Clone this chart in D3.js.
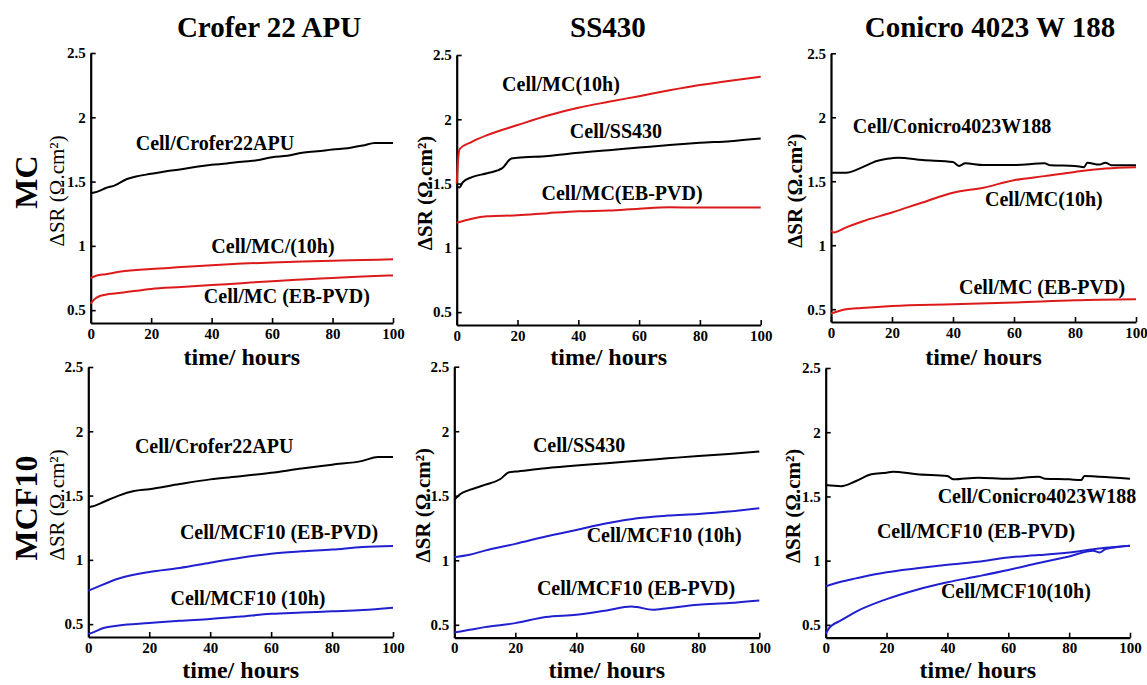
<!DOCTYPE html>
<html>
<head>
<meta charset="utf-8">
<script src="https://cdn.jsdelivr.net/npm/d3@7"></script>
<style>
  html, body { margin: 0; padding: 0; background: #fff; }
  svg { display: block; }
  svg text { font-family: "Liberation Serif", "Times New Roman", serif !important; }
</style>
</head>
<body>
<svg id="chart" width="1147" height="685"></svg>
<script>
// ---------------- DATA ----------------
const columnTitles = ["Crofer 22 APU", "SS430", "Conicro 4023 W 188"];
const rowTitles = ["MC", "MCF10"];
const yTicks = [0.5, 1, 1.5, 2, 2.5];
const xTicks = [0, 20, 40, 60, 80, 100];
const yLabel = "\u0394SR (\u03A9.cm\u00B2)";
const xLabel = "time/ hours";

// Row 1 (MC) — Crofer 22 APU
const croferBlack = [[0,1.41],[2,1.42],[5,1.45],[8,1.47],[12,1.52],[15,1.54],[20,1.56],[25,1.58],[30,1.595],[35,1.615],[40,1.63],[45,1.64],[50,1.655],[55,1.665],[60,1.69],[65,1.70],[70,1.725],[75,1.735],[80,1.75],[85,1.76],[90,1.78],[94,1.80],[100,1.80]];
const croferMC10h = [[0,0.75],[2,0.77],[5,0.78],[10,0.80],[20,0.82],[30,0.835],[40,0.85],[50,0.862],[60,0.87],[70,0.878],[80,0.885],[90,0.89],[100,0.895]];
const croferMCEB = [[0,0.55],[1,0.58],[3,0.61],[6,0.625],[10,0.635],[20,0.665],[30,0.68],[40,0.695],[50,0.71],[60,0.725],[70,0.738],[80,0.75],[90,0.762],[100,0.77]];

// Row 1 (MC) — SS430
const ssBlack = [[0,1.475],[1,1.47],[2,1.51],[5,1.55],[10,1.58],[15,1.62],[18,1.695],[20,1.70],[30,1.715],[40,1.74],[50,1.76],[60,1.78],[70,1.80],[80,1.817],[90,1.83],[100,1.85]];
const ssMC10h = [[0,1.50],[0.5,1.70],[1,1.77],[5,1.825],[10,1.877],[20,1.955],[30,2.03],[40,2.09],[50,2.136],[60,2.18],[70,2.225],[80,2.266],[90,2.30],[100,2.33]];
const ssMCEB = [[0,1.195],[5,1.227],[10,1.245],[20,1.253],[30,1.27],[40,1.285],[50,1.29],[60,1.305],[70,1.316],[80,1.313],[90,1.313],[100,1.313]];

// Row 1 (MC) — Conicro 4023 W 188
const conBlack = [[0,1.567],[5,1.567],[10,1.606],[15,1.658],[20,1.68],[22,1.684],[30,1.666],[40,1.65],[42,1.62],[44,1.64],[50,1.627],[60,1.627],[70,1.64],[72,1.625],[80,1.62],[83,1.61],[84,1.645],[88,1.63],[90,1.645],[92,1.625],[100,1.625]];
const conMC10h = [[0,1.114],[1,1.10],[5,1.14],[10,1.184],[20,1.256],[30,1.334],[40,1.41],[50,1.45],[60,1.508],[70,1.54],[80,1.573],[90,1.60],[100,1.61]];
const conMCEB = [[0,0.466],[5,0.50],[10,0.51],[20,0.526],[40,0.539],[60,0.552],[80,0.57],[100,0.578]];

// Row 2 (MCF10) — Crofer 22 APU
const croferBlack2 = [[0,1.41],[2,1.42],[5,1.45],[10,1.50],[15,1.535],[20,1.55],[30,1.59],[40,1.626],[50,1.65],[60,1.677],[70,1.71],[80,1.74],[90,1.77],[95,1.80],[100,1.80]];
const croferMCF10EB = [[0,0.76],[3,0.79],[10,0.855],[20,0.906],[30,0.937],[40,0.978],[50,1.017],[60,1.048],[70,1.066],[80,1.08],[90,1.10],[100,1.107]];
const croferMCF1010h = [[0,0.423],[2,0.44],[5,0.47],[10,0.49],[20,0.508],[30,0.526],[40,0.54],[50,0.559],[60,0.58],[70,0.59],[80,0.60],[90,0.61],[100,0.628]];

// Row 2 (MCF10) — SS430
const ssBlack2 = [[0,1.468],[2,1.514],[5,1.545],[10,1.584],[15,1.628],[18,1.682],[20,1.687],[30,1.713],[40,1.734],[50,1.752],[60,1.772],[70,1.79],[80,1.808],[90,1.824],[100,1.842]];
const ssMCF1010h = [[0,1.024],[5,1.042],[10,1.075],[20,1.127],[30,1.184],[40,1.235],[50,1.287],[60,1.326],[70,1.346],[80,1.359],[90,1.377],[100,1.403]];
const ssMCF10EB = [[0,0.44],[5,0.461],[10,0.482],[20,0.513],[30,0.56],[40,0.577],[50,0.611],[58,0.642],[60,0.637],[65,0.616],[70,0.629],[80,0.655],[90,0.668],[100,0.688]];

// Row 2 (MCF10) — Conicro 4023 W 188
const conBlack2 = [[0,1.589],[5,1.58],[10,1.62],[15,1.672],[20,1.685],[22,1.693],[30,1.672],[40,1.659],[42,1.633],[50,1.646],[60,1.638],[70,1.654],[72,1.638],[80,1.633],[84,1.628],[85,1.659],[90,1.654],[100,1.638]];
const conMCF10EB = [[0,0.80],[5,0.836],[10,0.862],[20,0.909],[30,0.94],[40,0.968],[50,0.992],[60,1.025],[70,1.043],[80,1.064],[90,1.095],[100,1.116]];
const conMCF1010h = [[0,0.43],[1,0.47],[2,0.495],[5,0.534],[10,0.603],[20,0.70],[30,0.774],[40,0.831],[50,0.878],[60,0.927],[70,0.981],[80,1.033],[88,1.077],[90,1.064],[92,1.09],[100,1.116]];

// Curve labels: [text, t, value] (anchored at their centre/baseline)
const labels1 = [["Cell/Crofer22APU",41.1,1.745],["Cell/MC/(10h)",60.3,0.944],["Cell/MC (EB-PVD)",64.9,0.555]];
const labels2 = [["Cell/MC(10h)",34.3,2.22],["Cell/SS430",52.4,1.853],["Cell/MC(EB-PVD)",54.4,1.37]];
const labels3 = [["Cell/Conicro4023W188",39.7,1.88],["Cell/MC(10h)",69.8,1.306],["Cell/MC (EB-PVD)",69.2,0.622]];
const labels4 = [["Cell/Crofer22APU",41.3,1.831],["Cell/MCF10 (EB-PVD)",62.6,1.162],["Cell/MCF10 (10h)",52.4,0.649]];
const labels5 = [["Cell/SS430",40.9,1.839],["Cell/MCF10 (10h)",68.8,1.142],["Cell/MCF10 (EB-PVD)",59.6,0.731]];
const labels6 = [["Cell/Conicro4023W188",69.4,1.449],["Cell/MCF10 (EB-PVD)",49.4,1.176],["Cell/MCF10(10h)",62.5,0.709]];

// ---------------- STYLE / LAYOUT ----------------
const SERIF = '"Liberation Serif", "Times New Roman", serif';
const BLACK = "#000000", RED = "#dc1a1a", BLUE = "#2020d0";
const panels = [
  {box:[90.7,393,53,323],   series:[[croferBlack,BLACK],[croferMC10h,RED],[croferMCEB,RED]],           labels:labels1, ylabX:57,  ylabW:"normal", xlabY:365},
  {box:[456.7,760.7,55,325],series:[[ssBlack,BLACK],[ssMC10h,RED],[ssMCEB,RED]],                      labels:labels2, ylabX:425, ylabW:"bold",   xlabY:365},
  {box:[831,1136,53.3,322], series:[[conBlack,BLACK],[conMC10h,RED],[conMCEB,RED]],                    labels:labels3, ylabX:795, ylabW:"bold",   xlabY:365},
  {box:[88.3,393,367,637],  series:[[croferBlack2,BLACK],[croferMCF10EB,BLUE],[croferMCF1010h,BLUE]],  labels:labels4, ylabX:57,  ylabW:"normal", xlabY:678},
  {box:[454.3,759.3,366.7,637.7], series:[[ssBlack2,BLACK],[ssMCF1010h,BLUE],[ssMCF10EB,BLUE]],         labels:labels5, ylabX:423, ylabW:"bold",   xlabY:678},
  {box:[825.7,1130,368,637.7], series:[[conBlack2,BLACK],[conMCF10EB,BLUE],[conMCF1010h,BLUE]],        labels:labels6, ylabX:793, ylabW:"bold",   xlabY:678}
];

const svg = d3.select("#chart");

panels.forEach(p => {
  const [x0, x1, yTop, yBot] = p.box;
  const x = d3.scaleLinear().domain([0, 100]).range([x0, x1]);
  const y = d3.scaleLinear().domain([0.4, 2.5]).range([yBot, yTop]);
  const g = svg.append("g");

  // axes
  const xa = g.append("g").attr("transform", `translate(0,${yBot})`)
    .call(d3.axisBottom(x).tickValues(xTicks).tickSize(-5).tickSizeOuter(0).tickPadding(5).tickFormat(d => String(d)));
  const ya = g.append("g").attr("transform", `translate(${x0},0)`)
    .call(d3.axisLeft(y).tickValues(yTicks).tickSize(-5).tickSizeOuter(0).tickPadding(5).tickFormat(d => String(d)));
  [xa, ya].forEach(a => {
    a.attr("font-family", SERIF);
    a.select(".domain").attr("stroke", "#000").attr("stroke-width", 2.2);
    a.selectAll(".tick line").attr("stroke", "#000").attr("stroke-width", 1.6);
    a.selectAll(".tick text").attr("fill", "#000")
      .style("font-family", SERIF).style("font-size", "15px").style("font-weight", "bold");
  });

  // curves
  const line = d3.line().x(d => x(d[0])).y(d => y(d[1])).curve(d3.curveMonotoneX);
  p.series.forEach(([data, color]) => {
    g.append("path").datum(data).attr("d", line)
      .attr("fill", "none").attr("stroke", color).attr("stroke-width", 2)
      .attr("stroke-linejoin", "round");
  });

  // curve labels
  p.labels.forEach(([txt, t, v]) => {
    g.append("text").attr("x", x(t)).attr("y", y(v))
      .attr("text-anchor", "middle").style("font-family", SERIF)
      .style("font-size", "20px").style("font-weight", "bold")
      .text(txt);
  });

  // axis titles
  g.append("text").attr("x", (x0 + x1) / 2).attr("y", p.xlabY)
    .attr("text-anchor", "middle").style("font-family", SERIF)
    .style("font-size", "24px").style("font-weight", "bold").text(xLabel);
  const cy = (yTop + yBot) / 2 + 3;
  g.append("text").attr("transform", `translate(${p.ylabX + 7},${cy}) rotate(-90)`)
    .attr("text-anchor", "middle").style("font-family", SERIF)
    .style("font-size", "21px").style("font-weight", p.ylabW).text(yLabel);
});

// column titles
const colCenters = [269, 608, 990];
columnTitles.forEach((t, i) => {
  svg.append("text").attr("x", colCenters[i]).attr("y", 37)
    .attr("text-anchor", "middle").style("font-family", SERIF)
    .style("font-size", "29px").style("font-weight", "bold").text(t);
});
// row titles
const rowCenters = [182, 508];
rowTitles.forEach((t, i) => {
  svg.append("text").attr("transform", `translate(37,${rowCenters[i]}) rotate(-90)`)
    .attr("text-anchor", "middle").style("font-family", SERIF)
    .style("font-size", "32px").style("font-weight", "bold").text(t);
});
</script>
</body>
</html>
